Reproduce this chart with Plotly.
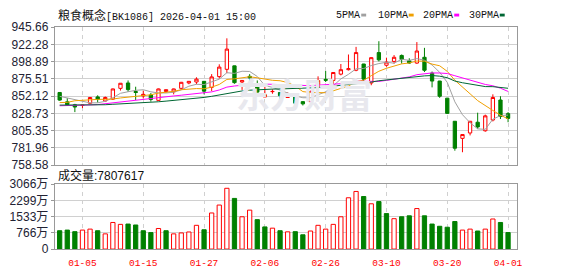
import plotly.graph_objects as go

# ---------------- data ----------------
dates = ["2025-12-29", "2025-12-30", "2025-12-31", "2026-01-05", "2026-01-06", "2026-01-07",
         "2026-01-08", "2026-01-09", "2026-01-12", "2026-01-13", "2026-01-14", "2026-01-15",
         "2026-01-16", "2026-01-19", "2026-01-20", "2026-01-21", "2026-01-22", "2026-01-23",
         "2026-01-26", "2026-01-27", "2026-01-28", "2026-01-29", "2026-01-30", "2026-02-02",
         "2026-02-03", "2026-02-04", "2026-02-05", "2026-02-06", "2026-02-09", "2026-02-10",
         "2026-02-11", "2026-02-12", "2026-02-13", "2026-02-24", "2026-02-25", "2026-02-26",
         "2026-02-27", "2026-03-02", "2026-03-03", "2026-03-04", "2026-03-05", "2026-03-06",
         "2026-03-09", "2026-03-10", "2026-03-11", "2026-03-12", "2026-03-13", "2026-03-16",
         "2026-03-17", "2026-03-18", "2026-03-19", "2026-03-20", "2026-03-23", "2026-03-24",
         "2026-03-25", "2026-03-26", "2026-03-27", "2026-03-30", "2026-03-31", "2026-04-01"]

opens = [857.2, 844.5, 840.5, 839.6, 842.6, 851.2, 845.7, 848.2, 862.8, 870.1,
         858.5, 852.5, 853.8, 846.5, 858.5, 858.1, 862.8, 870.1, 871.4, 872.3,
         864.1, 878.7, 888.6, 893.3, 871.4, 879.1, 868.4, 851.2, 858.3, 857.2,
         850.4, 852.5, 844.8, 844.8, 864.1, 875.0, 873.5, 882.1, 888.1, 887.3,
         895.8, 870.1, 911.3, 894.1, 899.3, 907.4, 900.1, 897.1, 904.9, 883.4,
         872.7, 849.5, 818.2, 795.0, 802.3, 816.9, 805.3, 819.9, 847.0, 828.5]
highs = [857.8, 849.5, 841.8, 840.5, 850.8, 853.4, 851.7, 862.5, 870.0, 873.5,
         865.0, 859.8, 856.4, 862.5, 861.0, 862.5, 871.5, 872.3, 877.8, 872.5,
         882.1, 895.4, 930.6, 893.5, 873.5, 882.1, 873.5, 865.0, 861.5, 857.5,
         857.2, 852.9, 845.5, 859.8, 879.1, 886.4, 884.5, 895.8, 908.7, 919.0,
         896.0, 905.0, 926.7, 904.4, 907.9, 908.7, 903.6, 925.5, 917.7, 885.6,
         873.0, 849.9, 818.5, 800.5, 818.5, 829.8, 827.2, 854.7, 852.1, 830.6]
lows = [846.0, 839.0, 830.6, 836.0, 841.4, 843.5, 844.8, 847.0, 859.8, 858.1,
        847.0, 849.0, 844.8, 846.0, 857.0, 854.7, 861.0, 868.4, 868.4, 854.7,
        859.0, 876.1, 883.4, 869.0, 860.7, 866.3, 857.0, 851.0, 855.5, 848.6,
        850.0, 840.0, 839.6, 844.0, 863.0, 871.4, 868.4, 880.4, 887.0, 886.0,
        872.7, 867.0, 899.3, 892.0, 896.3, 896.3, 896.0, 896.0, 885.0, 864.1,
        849.9, 828.0, 778.3, 776.2, 799.0, 808.0, 804.0, 818.0, 821.2, 816.9]
closes = [846.9, 840.5, 837.5, 840.0, 850.4, 847.8, 850.4, 862.0, 869.7, 861.1,
          857.2, 854.7, 847.8, 862.0, 861.0, 862.0, 871.0, 872.3, 875.3, 859.0,
          878.3, 891.6, 916.0, 870.5, 873.5, 877.0, 857.7, 854.2, 858.6, 852.9,
          854.7, 842.7, 841.8, 858.5, 873.5, 873.8, 884.3, 888.1, 889.4, 911.3,
          875.3, 904.4, 901.4, 898.4, 904.9, 901.9, 897.1, 913.4, 887.3, 872.7,
          852.1, 828.9, 781.7, 800.2, 818.2, 810.5, 825.5, 850.4, 824.6, 822.1]

ma5 = [852.0, 850.0, 847.0, 845.0, 843.1, 843.2, 845.2, 850.1, 856.1, 858.2,
       860.1, 860.9, 858.1, 856.6, 856.5, 857.5, 860.8, 865.7, 868.3, 867.9,
       871.2, 875.3, 884.0, 883.1, 886.0, 885.7, 878.9, 866.6, 864.2, 860.1,
       855.6, 852.6, 850.1, 850.1, 854.2, 858.0, 866.3, 875.6, 881.8, 889.3,
       889.7, 893.7, 896.4, 898.2, 896.9, 902.2, 900.7, 903.1, 900.9, 894.5,
       884.5, 870.9, 844.5, 827.1, 816.2, 807.9, 807.2, 821.0, 825.8, 826.6]
ma10 = [843.5, 843.8, 846.0, 846.8, 847.5, 847.8, 848.0, 848.3, 849.8, 850.7,
        851.7, 853.1, 854.1, 856.4, 857.4, 858.8, 860.9, 861.9, 862.5, 862.2,
        864.4, 868.1, 874.9, 875.7, 877.0, 878.5, 877.1, 875.3, 873.7, 873.1,
        870.7, 865.8, 858.4, 857.2, 857.2, 856.9, 859.5, 862.9, 866.0, 871.8,
        873.8, 880.0, 886.0, 890.0, 893.1, 896.0, 897.2, 899.8, 899.6, 895.7,
        893.4, 885.8, 873.8, 864.0, 855.4, 846.2, 839.1, 832.8, 826.5, 821.4]
ma20 = [839.2, 839.3, 839.8, 840.1, 840.3, 840.8, 842.0, 843.8, 845.0, 846.2,
        847.3, 848.3, 849.3, 850.3, 851.3, 852.5, 853.5, 854.5, 855.5, 856.4,
        858.0, 860.6, 864.5, 866.0, 867.2, 868.6, 869.0, 868.6, 868.1, 867.6,
        867.5, 866.9, 866.6, 866.4, 867.1, 867.6, 868.3, 869.1, 869.8, 872.4,
        872.2, 872.9, 872.2, 873.6, 875.1, 876.4, 878.3, 881.3, 882.7, 883.7,
        883.6, 882.9, 879.9, 877.0, 874.2, 871.1, 868.1, 866.3, 863.0, 858.6]
ma30 = [840.1, 840.1, 840.1, 840.1, 840.2, 840.4, 840.6, 841.2, 841.6, 842.4,
        843.0, 843.8, 844.2, 844.6, 845.5, 846.3, 847.2, 848.3, 849.5, 850.5,
        852.0, 854.0, 856.3, 858.0, 859.3, 860.3, 861.0, 861.5, 861.8, 862.0,
        862.2, 862.3, 862.4, 863.1, 863.8, 864.7, 865.8, 866.7, 867.4, 869.0,
        869.6, 871.3, 873.1, 874.3, 875.7, 877.1, 877.9, 879.3, 879.7, 880.2,
        879.3, 877.2, 872.7, 870.4, 868.5, 866.3, 865.2, 865.1, 864.0, 862.9]

# volume in 万 (1e4)
volumes = [868, 898, 823, 898, 943, 868, 719, 1257, 1168, 1183,
           1138, 868, 778, 973, 868, 719, 763, 808, 1123, 913,
           1707, 2081, 2874, 2395, 1527, 1841, 1392, 1048, 988, 868,
           815, 823, 674, 853, 1123, 943, 1168, 1527, 2425, 2725,
           2485, 2141, 2246, 1677, 1437, 1527, 1572, 1916, 1572, 1183,
           1078, 1033, 1302, 898, 943, 853, 943, 1422, 1257, 780.8]
vol_up = [0, 0, 0, 1, 1, 0, 1, 1, 1, 0,
          0, 0, 0, 1, 0, 1, 1, 1, 1, 0,
          1, 1, 1, 0, 1, 1, 0, 0, 1, 0,
          1, 0, 0, 1, 1, 1, 1, 1, 1, 1,
          0, 1, 0, 0, 1, 0, 0, 1, 0, 0,
          0, 0, 0, 1, 1, 0, 1, 1, 0, 0]

price_ticks = [945.66, 922.28, 898.89, 875.51, 852.12, 828.73, 805.35, 781.96, 758.58]
vol_ticks = [0, 766.5, 1533, 2299.5, 3066]
vol_tick_text = ["0", "766万", "1533万", "2299万", "3066万"]
date_ticks = ["2026-01-05", "2026-01-15", "2026-01-27", "2026-02-06",
              "2026-02-26", "2026-03-10", "2026-03-20", "2026-04-01"]
date_tick_text = [d[5:] for d in date_ticks]

title_name = "粮食概念[BK1086]"
title_time = "2026-04-01 15:00"
vol_label = "成交量:7807617"
ma_names = ["5PMA", "10PMA", "20PMA", "30PMA"]

# ---------------- styles ----------------
RED = "#ff0000"
GREEN = "#008000"
MA_COLORS = ["#a0a0a0", "#f0a000", "#ff00ff", "#006633"]
GRID = "#d0d0d0"
BORDER = "#999999"
W, H = 578, 276

def px_x(v):
    return v / W

def px_y(v):
    return 1 - v / H

X_DOM = [px_x(55.3), px_x(522.3)]
Y_MAIN = [px_y(166.7), px_y(21.3)]
Y_VOL = [px_y(255.0), px_y(186.7)]
XR = [-0.65, 60.16]

fig = go.Figure()

fig.add_trace(go.Candlestick(
    x=dates, open=opens, high=highs, low=lows, close=closes,
    increasing=dict(line=dict(color=RED, width=1), fillcolor="white"),
    decreasing=dict(line=dict(color=GREEN, width=1), fillcolor=GREEN),
    whiskerwidth=0, hoverinfo="skip", showlegend=False,
    xaxis="x", yaxis="y"))

for vals, col in zip([ma5, ma10, ma20, ma30], MA_COLORS):
    fig.add_trace(go.Scatter(x=dates, y=vals, mode="lines",
                             line=dict(color=col, width=1),
                             hoverinfo="skip", showlegend=False,
                             xaxis="x", yaxis="y"))

fig.add_trace(go.Bar(
    x=dates, y=volumes, width=0.56,
    marker=dict(color=["white" if u else GREEN for u in vol_up],
                line=dict(color=[RED if u else GREEN for u in vol_up], width=1)),
    hoverinfo="skip", showlegend=False, xaxis="x2", yaxis="y2"))

axis_common = dict(showline=True, linecolor=BORDER, linewidth=1, mirror=True,
                   zeroline=False)

fig.update_layout(
    width=W, height=H, autosize=False,
    margin=dict(l=0, r=0, t=0, b=0),
    paper_bgcolor="white", plot_bgcolor="white",
    showlegend=False, boxgap=0.38,
    xaxis=dict(domain=X_DOM, anchor="y", type="category", range=XR,
               tickvals=date_ticks, showticklabels=False, ticks="",
               showgrid=True, gridcolor=GRID, griddash="4px,4px", gridwidth=1,
               rangeslider=dict(visible=False), **axis_common),
    yaxis=dict(domain=Y_MAIN, anchor="x", range=[price_ticks[-1], price_ticks[0]],
               tickvals=price_ticks, ticktext=[f"{v:.2f}" for v in price_ticks],
               ticks="outside", ticklen=3, tickcolor=BORDER,
               tickfont=dict(family="Liberation Sans, Arial", size=12, color="#222233"),
               showgrid=True, gridcolor=GRID, gridwidth=1, **axis_common),
    xaxis2=dict(domain=X_DOM, anchor="y2", type="category", range=XR, matches="x",
                tickvals=date_ticks, ticktext=date_tick_text, ticks="",
                ticklabelstandoff=5,
                tickfont=dict(family="Liberation Mono, DejaVu Sans Mono", size=9.5, color=RED),
                showgrid=True, gridcolor=GRID, griddash="4px,4px", gridwidth=1,
                **axis_common),
    yaxis2=dict(domain=Y_VOL, anchor="x2", range=[0, 3066],
                tickvals=vol_ticks, ticktext=vol_tick_text,
                ticks="outside", ticklen=3, tickcolor=BORDER,
                tickfont=dict(family="Liberation Sans, Noto Sans CJK SC", size=12, color="#222233"),
                showgrid=True, gridcolor=GRID, gridwidth=1, **axis_common),
)

annotations = []
# watermark
annotations.append(dict(text="<b>东方财富</b>", x=px_x(307), y=px_y(91), xref="paper", yref="paper",
                        showarrow=False, xanchor="center", yanchor="middle",
                        font=dict(family="Noto Sans CJK SC", size=34, color="#e8e8ee")))
# title
annotations.append(dict(text=f"<span style='font-size:12px'>粮食概念</span>{title_name[4:]} {title_time}",
                        x=px_x(56.5), y=px_y(9), xref="paper", yref="paper",
                        showarrow=False, xanchor="left", yanchor="middle",
                        font=dict(family="Liberation Mono, Noto Sans CJK SC", size=10, color="#111111")))
# volume label
annotations.append(dict(text=vol_label, x=px_x(56.5), y=px_y(178), xref="paper", yref="paper",
                        showarrow=False, xanchor="left", yanchor="middle",
                        font=dict(family="Liberation Sans, Noto Sans CJK SC", size=12, color="#111111")))
# MA legend
leg_text_x = [338, 380, 425, 472]
leg_sq_x = [365, 413, 459, 505]
shapes = []
for name, tx, sx, col in zip(ma_names, leg_text_x, leg_sq_x, MA_COLORS):
    annotations.append(dict(text=name, x=px_x(tx), y=px_y(8.5), xref="paper", yref="paper",
                            showarrow=False, xanchor="left", yanchor="middle",
                            font=dict(family="Liberation Mono", size=10, color="#111111")))
    shapes.append(dict(type="rect", xref="paper", yref="paper",
                       x0=px_x(sx), x1=px_x(sx + 5), y0=px_y(10), y1=px_y(7),
                       fillcolor=col, line=dict(width=0)))

fig.update_layout(annotations=annotations, shapes=shapes)

fig.write_html("out.html")
